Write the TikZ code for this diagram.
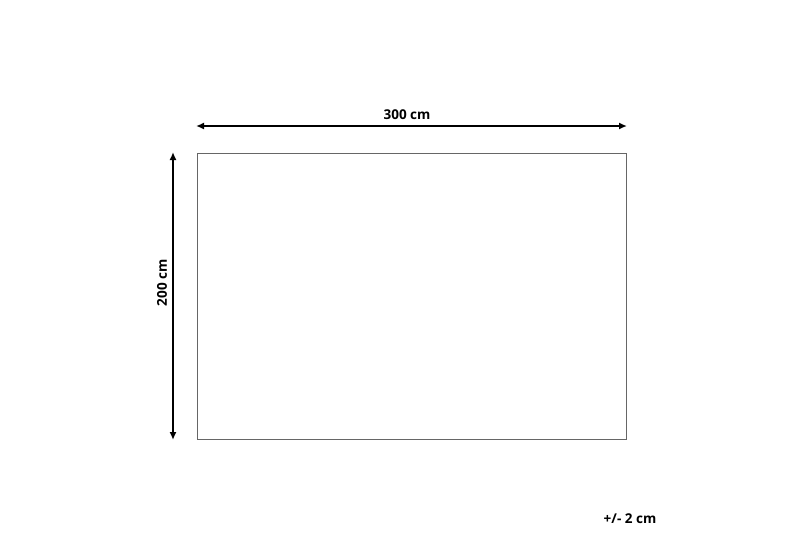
\documentclass[tikz,border=0pt]{standalone}
\usepackage{fontspec}
\setmainfont{Open Sans}
\usetikzlibrary{arrows.meta}
\begin{document}
\begin{tikzpicture}[x=1pt, y=-1pt]
		\useasboundingbox (0, 0) rectangle (800, 533);

		\coordinate (r1) at (197, 153);
		\coordinate (r2) at (626, 153);
		\coordinate (r3) at (626, 439);
		\coordinate (r4) at (197, 439);

		\coordinate (w1) at (196, 126);
		\coordinate (w2) at (627, 126);
		\coordinate (h1) at (173, 152);
		\coordinate (h2) at (173, 440);

		% tappeto
		\draw[line width=1pt, color=black!60] (r1) -- (r2) -- (r3) -- (r4) -- cycle;

		% quote
		\draw[line width=1.8pt, {Latex[length=8pt,width=7pt]}-{Latex[length=8pt,width=7pt]}] (w1) -- (w2);
		\draw[line width=1.8pt, {Latex[length=8pt,width=7pt]}-{Latex[length=8pt,width=7pt]}] (h1) -- (h2);

		\node (lw) at (407, 115) [font=\fontsize{13.5}{15}\bfseries\selectfont] {300 cm};
		\node (lh) at (162, 283) [rotate=90, font=\fontsize{13.5}{15}\bfseries\selectfont] {200 cm};
		\node (tol) at (630, 519) [font=\fontsize{13.5}{15}\bfseries\selectfont] {+/- 2 cm};
	\end{tikzpicture}
\end{document}
